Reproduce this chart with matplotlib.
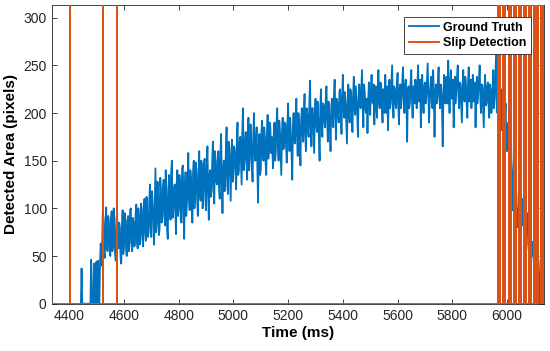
import numpy as np
import matplotlib
matplotlib.use("Agg")
import matplotlib.pyplot as plt

# ---- data ----
gt_start_ms = 4440
gt_step_ms = 2.5
ground_truth = [
    0, 0, 37, 0, 0, 0, 0, 0, 0, 0, 0, 0, 0, 0, 0, 0, 46, 0, 0, 0,
    42, 0, 0, 43, 44, 0, 45, 0, 0, 45, 63, 40, 58, 96, 90, 52, 48, 85, 101, 60,
    55, 92, 85, 60, 50, 88, 97, 55, 62, 100, 78, 52, 45, 90, 95, 62, 58, 85, 80, 48,
    42, 80, 98, 52, 60, 95, 88, 58, 50, 86, 92, 55, 65, 98, 100, 62, 55, 90, 85, 60,
    62, 95, 104, 65, 58, 100, 90, 62, 70, 105, 98, 68, 60, 102, 110, 75, 66, 112, 95, 70,
    75, 108, 125, 80, 70, 118, 105, 88, 62, 100, 142, 75, 85, 128, 110, 72, 78, 132, 120, 85,
    90, 122, 130, 95, 82, 140, 118, 78, 68, 120, 135, 100, 88, 138, 150, 90, 95, 118, 125, 102,
    73, 125, 140, 92, 100, 135, 128, 88, 85, 142, 145, 98, 68, 120, 138, 92, 105, 128, 158, 110,
    98, 140, 132, 105, 85, 138, 150, 100, 112, 148, 140, 110, 92, 135, 160, 115, 108, 150, 145, 100,
    118, 148, 152, 110, 98, 145, 165, 120, 88, 135, 140, 112, 120, 150, 170, 118, 105, 160, 150, 128,
    125, 150, 160, 120, 110, 155, 178, 130, 95, 140, 150, 118, 130, 162, 185, 125, 115, 170, 165, 135,
    108, 155, 172, 128, 138, 165, 160, 142, 120, 170, 190, 135, 140, 168, 175, 150, 125, 180, 205, 140,
    148, 170, 180, 150, 130, 178, 195, 140, 155, 188, 170, 145, 128, 175, 200, 160, 150, 172, 185, 142,
    106, 165, 178, 135, 140, 180, 192, 155, 150, 185, 175, 148, 135, 178, 198, 152, 160, 190, 185, 158,
    175, 160, 142, 178, 190, 150, 160, 188, 205, 168, 150, 192, 182, 158, 135, 180, 195, 162, 165, 190,
    188, 165, 148, 190, 210, 172, 160, 195, 178, 158, 130, 185, 200, 170, 168, 198, 215, 175, 155, 200,
    190, 170, 145, 192, 205, 182, 170, 200, 220, 178, 160, 205, 198, 182, 175, 210, 234, 188, 165, 205,
    205, 180, 158, 200, 215, 190, 180, 212, 195, 175, 150, 205, 225, 188, 175, 210, 208, 192, 185, 215,
    228, 195, 170, 212, 200, 185, 160, 205, 215, 198, 185, 220, 235, 200, 172, 215, 210, 198, 190, 222,
    225, 200, 178, 215, 240, 205, 195, 222, 212, 190, 168, 210, 230, 200, 190, 225, 220, 202, 180, 218,
    238, 205, 198, 228, 215, 200, 175, 215, 230, 210, 205, 225, 245, 208, 185, 230, 222, 205, 200, 215,
    179, 210, 232, 205, 198, 225, 240, 212, 210, 230, 188, 215, 228, 205, 195, 228, 245, 210, 205, 232,
    230, 208, 190, 225, 215, 200, 240, 218, 200, 228, 182, 215, 235, 205, 210, 230, 250, 212, 195, 228,
    225, 210, 205, 230, 242, 212, 188, 225, 230, 205, 215, 235, 248, 215, 200, 228, 235, 210, 170, 222,
    228, 205, 210, 232, 245, 215, 195, 228, 222, 210, 235, 218, 205, 230, 250, 212, 215, 235, 185, 218,
    240, 215, 200, 228, 232, 210, 215, 235, 252, 220, 190, 215, 228, 238, 210, 205, 245, 222, 175, 215,
    230, 210, 215, 235, 248, 218, 205, 230, 225, 205, 165, 218, 240, 212, 210, 238, 235, 210, 255, 225,
    200, 230, 245, 215, 218, 235, 185, 220, 238, 210, 225, 240, 250, 218, 205, 232, 230, 210, 190, 228,
    245, 218, 212, 238, 230, 210, 195, 232, 248, 212, 220, 235, 205, 225, 240, 212, 215, 232, 185, 220,
    238, 210, 222, 235, 250, 215, 200, 230, 228, 205, 185, 225, 240, 208, 210, 228, 232, 210, 195, 230,
    225, 200, 205, 230, 245, 205, 215, 240,
    262, 215, 200, 240, 230, 205, 190, 225, 182, 200, 205, 188, 175, 198, 210, 170, 160, 185, 190, 155,
    140, 160, 170, 120, 98, 135, 150, 90, 75, 125, 108, 85, 80, 100, 105, 70, 75, 98, 110, 82,
    85, 95, 100, 72, 75, 88, 95, 62, 55, 80, 70, 48, 50, 65, 60, 45, 40, 55, 50, 38,
    35, 48, 45, 30, 0, 0, 0,
]

slip_times_ms = [4404, 4522, 4574,
                 5967, 5976, 5985, 5993,
                 6007, 6016, 6025, 6034, 6043, 6052, 6061, 6070,
                 6079, 6088, 6097, 6106, 6115, 6124, 6133]
slip_high = 1000
time_range_ms = [4338, 6134]

x_ticks = [4400, 4600, 4800, 5000, 5200, 5400, 5600, 5800, 6000]
y_ticks = [0, 50, 100, 150, 200, 250, 300]
y_max = 313.6

# ---- build series ----
gt_t = gt_start_ms + gt_step_ms * np.arange(len(ground_truth))
gt_v = np.array(ground_truth, dtype=float)

sx = [time_range_ms[0]]
sy = [0]
for t in slip_times_ms:
    sx += [t, t, t]
    sy += [0, slip_high, 0]
sx.append(time_range_ms[1])
sy.append(0)

plt.rcParams['font.family'] = ['Liberation Sans', 'DejaVu Sans']

fig = plt.figure(figsize=(5.5, 3.51), dpi=100)
ax = fig.add_axes([0.0951, 0.1348, 0.9885 - 0.0951, 0.9866 - 0.1348])

blue = '#0072BD'
orange = '#D95319'
ax.plot(gt_t, gt_v, color=blue, lw=1.3, label='Ground Truth', zorder=2)
ax.plot(sx, sy, color=orange, lw=1.4, label='Slip Detection', zorder=3)

ax.set_xlim(time_range_ms)
ax.set_ylim(0, y_max)
ax.set_xticks(x_ticks)
ax.set_yticks(y_ticks)

dark = '#262626'
ax.tick_params(direction='in', top=True, right=True, length=3.5, width=0.6,
               colors=dark, labelsize=10, pad=4)
for s in ax.spines.values():
    s.set_color(dark)
    s.set_linewidth(0.6)

ax.set_xlabel('Time (ms)', fontsize=11, fontweight='bold', color='black', labelpad=2)
ax.set_ylabel('Detected Area (pixels)', fontsize=11, fontweight='bold', color='black', labelpad=4)

leg = ax.legend(loc='upper right', bbox_to_anchor=(0.9745, 0.96),
                prop={'weight': 'bold', 'size': 9}, frameon=True, fancybox=False,
                edgecolor=dark, framealpha=1, handlelength=2.4, borderpad=0.4,
                labelspacing=0.3, handletextpad=0.3, borderaxespad=0)
leg.get_frame().set_linewidth(0.6)
leg.set_zorder(5)

fig.savefig('out.png', dpi=100)
